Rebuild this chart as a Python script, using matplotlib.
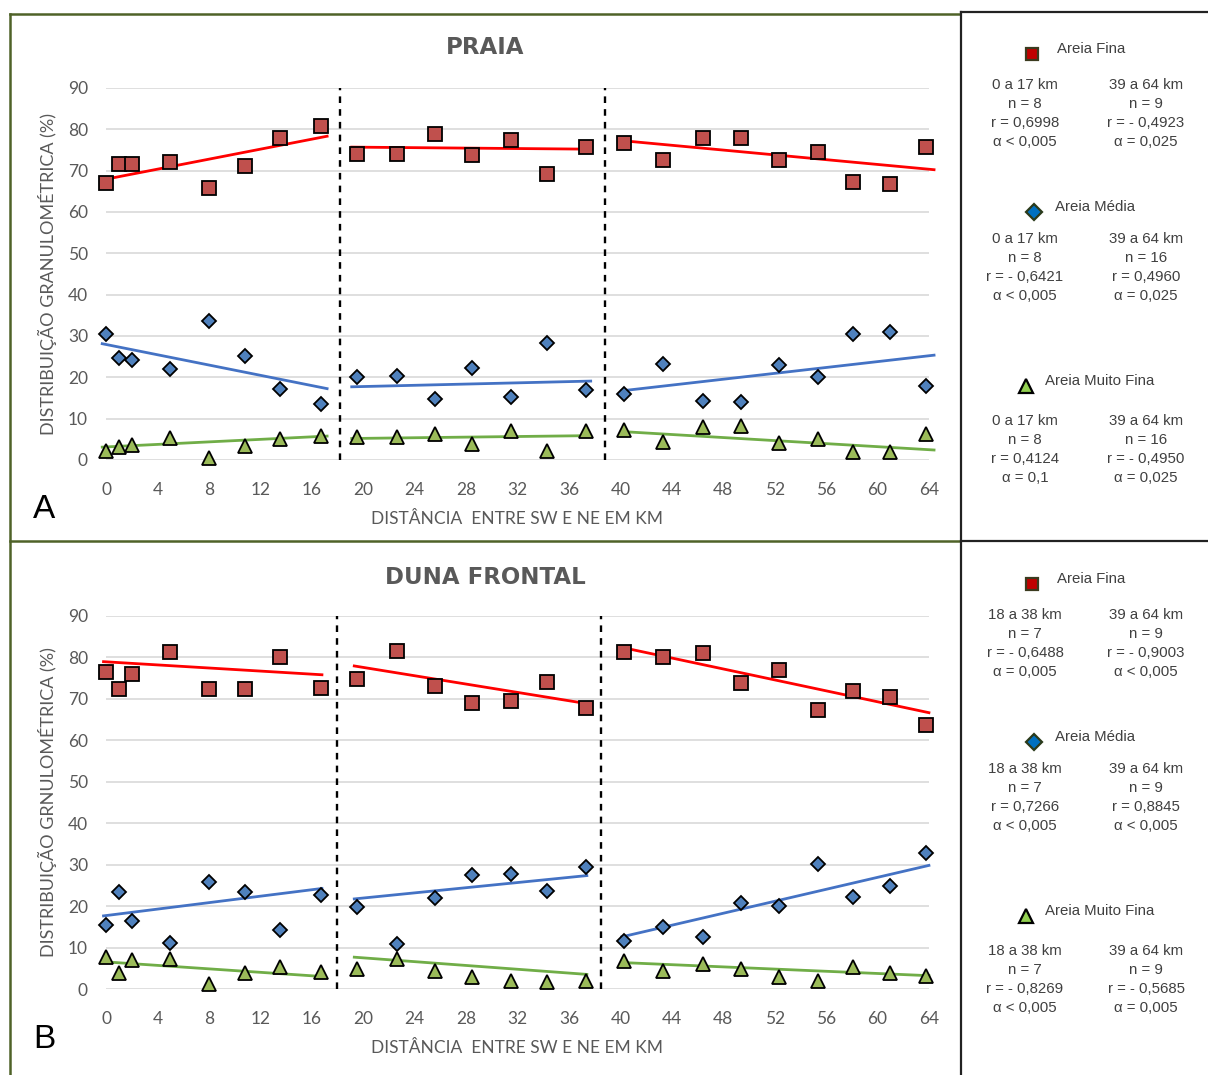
import matplotlib
matplotlib.use("Agg")
import matplotlib.pyplot as plt
from matplotlib.lines import Line2D

# ---------------- data ----------------
distancia_km = [0, 1.0, 2.0, 5.0, 8.0, 10.8, 13.5, 16.7,
                19.5, 22.6, 25.6, 28.5, 31.5, 34.3, 37.3,
                40.3, 43.3, 46.4, 49.4, 52.3, 55.4, 58.1, 61.0, 63.8]

praia_fina = [66.9, 71.6, 71.6, 72.2, 65.7, 71.2, 77.8, 80.8,
              74.0, 74.0, 78.8, 73.8, 77.4, 69.2, 75.7,
              76.6, 72.5, 77.8, 77.8, 72.7, 74.5, 67.3, 66.7, 75.7]
praia_media = [30.4, 24.6, 24.2, 22.0, 33.7, 25.2, 17.1, 13.5,
               20.2, 20.3, 14.8, 22.2, 15.2, 28.2, 16.9,
               15.9, 23.3, 14.3, 14.0, 23.1, 20.2, 30.5, 31.0, 17.9]
praia_muito_fina = [2.2, 3.2, 3.6, 5.4, 0.4, 3.5, 5.0, 5.9,
                    5.6, 5.6, 6.2, 3.9, 7.1, 2.2, 7.0,
                    7.3, 4.4, 7.9, 8.2, 4.2, 5.0, 2.0, 2.0, 6.3]

duna_fina = [76.5, 72.4, 76.0, 81.2, 72.5, 72.4, 80.2, 72.6,
             74.8, 81.5, 73.0, 69.0, 69.5, 74.0, 67.8,
             81.2, 80.0, 81.1, 73.8, 76.9, 67.4, 72.0, 70.4, 63.6]
duna_media = [15.4, 23.4, 16.5, 11.0, 25.8, 23.3, 14.2, 22.8,
              19.9, 10.9, 22.0, 27.5, 27.8, 23.7, 29.5,
              11.5, 14.9, 12.5, 20.7, 20.0, 30.2, 22.2, 24.9, 32.8]
duna_muito_fina = [7.8, 3.8, 7.0, 7.2, 1.2, 3.8, 5.2, 4.2,
                   4.8, 7.2, 4.3, 2.8, 2.0, 1.8, 2.0,
                   6.8, 4.3, 6.0, 4.8, 2.8, 1.9, 5.4, 3.9, 3.2]

# linear trend segments: (x start, x end) and (y start, y end)
praia_trend_x = [(-0.4, 17.3), (19.0, 37.8), (40.0, 64.5)]
praia_fina_trend = [(67.7, 78.4), (75.7, 75.2), (77.3, 70.2)]
praia_media_trend = [(28.2, 17.2), (17.7, 19.1), (16.7, 25.4)]
praia_mf_trend = [(3.1, 5.8), (5.2, 5.9), (6.9, 2.4)]

duna_trend_x = [(-0.3, 16.9), (19.2, 37.5), (40.0, 64.1)]
duna_fina_trend = [(79.0, 75.8), (78.0, 68.8), (82.5, 66.6)]
duna_media_trend = [(17.6, 24.3), (21.7, 27.4), (12.5, 29.9)]
duna_mf_trend = [(6.6, 3.0), (7.7, 3.5), (6.4, 3.2)]

praia_divisas = [18.2, 38.8]
duna_divisas = [18.0, 38.5]

x_ticks = list(range(0, 65, 4))
y_ticks = list(range(0, 91, 10))

praia_stats = [
    ("Areia Fina", "s",
     ["0 a 17 km", "n = 8", "r = 0,6998", "\u03b1 < 0,005"],
     ["39 a 64 km", "n = 9", "r = - 0,4923", "\u03b1 = 0,025"]),
    ("Areia Média", "D",
     ["0 a 17 km", "n = 8", "r = - 0,6421", "\u03b1 < 0,005"],
     ["39 a 64 km", "n = 16", "r = 0,4960", "\u03b1 = 0,025"]),
    ("Areia Muito Fina", "^",
     ["0 a 17 km", "n = 8", "r = 0,4124", "\u03b1 = 0,1"],
     ["39 a 64 km", "n = 16", "r = - 0,4950", "\u03b1 = 0,025"]),
]
duna_stats = [
    ("Areia Fina", "s",
     ["18 a 38 km", "n = 7", "r = - 0,6488", "\u03b1 = 0,005"],
     ["39 a 64 km", "n = 9", "r = - 0,9003", "\u03b1 < 0,005"]),
    ("Areia Média", "D",
     ["18 a 38 km", "n = 7", "r = 0,7266", "\u03b1 < 0,005"],
     ["39 a 64 km", "n = 9", "r = 0,8845", "\u03b1 < 0,005"]),
    ("Areia Muito Fina", "^",
     ["18 a 38 km", "n = 7", "r = - 0,8269", "\u03b1 < 0,005"],
     ["39 a 64 km", "n = 9", "r = - 0,5685", "\u03b1 = 0,005"]),
]

# ---------------- styling ----------------
W, H = 1208, 1075
CHART_FONT = ["Lato", "DejaVu Sans"]
NOTE_FONT = ["Liberation Sans", "DejaVu Sans"]
GRAY = "#595959"

series_style = {
    "fina": dict(marker="s", ms=10.5, mfc="#C0504D", line="#FF0000"),
    "media": dict(marker="D", ms=7.0, mfc="#4F81BD", line="#4472C4"),
    "mf": dict(marker="^", ms=9.5, mfc="#9BBB59", line="#70AD47"),
}

fig = plt.figure(figsize=(W / 100, H / 100), dpi=100)


def frac_box(x0, y0, x1, y1):
    return [x0 / W, 1 - y1 / H, (x1 - x0) / W, (y1 - y0) / H]


def draw_chart(box, series, trend_x, trends, divisas, title, ylabel, letter, title_y, xlabel_y, letter_y):
    ax = fig.add_axes(frac_box(*box))
    ax.set_xlim(0, 64)
    ax.set_ylim(0, 90)
    ax.set_xticks(x_ticks)
    ax.set_yticks(y_ticks)
    ax.grid(axis="y", color="#D9D9D9", lw=1.2)
    ax.set_axisbelow(True)
    for s in ax.spines.values():
        s.set_visible(False)
    ax.tick_params(length=0, labelsize=12.5, labelcolor=GRAY)
    ax.tick_params(axis="x", pad=15.5)
    ax.tick_params(axis="y", pad=13)
    for lab in ax.get_xticklabels() + ax.get_yticklabels():
        lab.set_family(CHART_FONT)

    for xv in divisas:
        ax.plot([xv, xv], [0, 90], color="black", lw=1.7, ls=(0, (2.8, 2.6)), zorder=2, clip_on=False)

    for key, vals in series:
        st = series_style[key]
        tr = trends[key]
        for (x0, x1), (y0, y1) in zip(trend_x, tr):
            ax.plot([x0, x1], [y0, y1], color=st["line"], lw=2.0, zorder=3, clip_on=False,
                    solid_capstyle="butt")
    for key, vals in series:
        st = series_style[key]
        ax.plot(distancia_km, vals, ls="none", marker=st["marker"], ms=st["ms"],
                mfc=st["mfc"], mec="black", mew=1.3, zorder=4, clip_on=False)

    ov.text(485, title_y, title, ha="center", va="center", fontsize=16.5, fontweight="bold",
            color=GRAY, family=["DejaVu Sans"])
    ov.text(517, xlabel_y, "DISTÂNCIA  ENTRE SW E NE EM KM", ha="center", va="center",
            fontsize=12.5, color=GRAY, family=CHART_FONT)
    ov.text(47, (box[1] + box[3]) / 2, ylabel, ha="center", va="center", rotation=90,
            fontsize=13, color=GRAY, family=CHART_FONT)
    ov.text(44, letter_y, letter, ha="center", va="center", fontsize=24, color="black",
            family=["Liberation Sans", "DejaVu Sans"])


def draw_notes(stats, top):
    for (name, marker, left, right), off in zip(stats, [0, 158, 332]):
        y_head = top + off
        mk_x = {"s": 1032, "D": 1034, "^": 1026}[marker]
        name_x = {"s": 1057, "D": 1055, "^": 1045}[marker]
        mfc = {"s": "#C00000", "D": "#0070C0", "^": "#92D050"}[marker]
        ms = {"s": 8, "D": 8, "^": 10}[marker]
        mec = {"s": "#3B3B1F", "D": "#2B3A1A", "^": "black"}[marker]
        ov.add_line(Line2D([mk_x], [y_head + 5], marker=marker, ms=ms, mfc=mfc, mec=mec, mew=1.6, ls="none"))
        ov.text(name_x, y_head, name, ha="left", va="center", fontsize=10.8, color="#404040", family=NOTE_FONT)
        gap = {"s": 36, "D": 32, "^": 40}[marker]
        for j, (lt, rt) in enumerate(zip(left, right)):
            yy = y_head + gap + 19 * j
            ov.text(1025, yy, lt, ha="center", va="center", fontsize=10.8, color="#404040", family=NOTE_FONT)
            ov.text(1146, yy, rt, ha="center", va="center", fontsize=10.8, color="#404040", family=NOTE_FONT)


# overlay in pixel coordinates for frames and annotation text
ov = fig.add_axes([0, 0, 1, 1])
ov.set_xlim(0, W)
ov.set_ylim(H, 0)
ov.axis("off")
ov.set_zorder(-1)

GREEN = "#4F6228"
ov.plot([10, 960], [14, 14], color=GREEN, lw=1.8)
ov.plot([10, 10], [14, H], color=GREEN, lw=1.8)
ov.plot([10, 960], [541, 541], color=GREEN, lw=1.8)
ov.plot([961, 961], [12, H], color="#222222", lw=1.6)
ov.plot([961, W], [12, 12], color="#222222", lw=1.6)
ov.plot([961, W], [541, 541], color="#222222", lw=1.6)

draw_chart((106, 88, 929, 460),
           [("fina", praia_fina), ("media", praia_media), ("mf", praia_muito_fina)],
           praia_trend_x,
           {"fina": praia_fina_trend, "media": praia_media_trend, "mf": praia_mf_trend},
           praia_divisas, "PRAIA", "DISTRIBUIÇÃO GRANULOMÉTRICA (%)", "A", 48, 519, 509)
draw_chart((106, 616, 929, 989),
           [("fina", duna_fina), ("media", duna_media), ("mf", duna_muito_fina)],
           duna_trend_x,
           {"fina": duna_fina_trend, "media": duna_media_trend, "mf": duna_mf_trend},
           duna_divisas, "DUNA FRONTAL", "DISTRIBUIÇÃO GRNULOMÉTRICA (%)", "B", 577, 1048, 1040)

draw_notes(praia_stats, 49)
draw_notes(duna_stats, 579)

fig.savefig("out.png", dpi=100, facecolor="white")
